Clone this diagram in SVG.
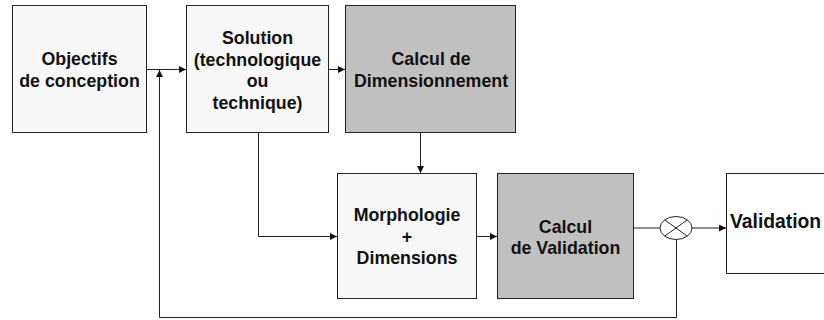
<svg xmlns="http://www.w3.org/2000/svg" width="824" height="320" viewBox="0 0 824 320">
<defs>
<style>
.box{stroke:#222;stroke-width:1}
.light{fill:#f8f8f8}
.dark{fill:#c0c0c0}
.white{fill:#ffffff}
text{font-family:"Liberation Sans",Arial,sans-serif;font-weight:bold;font-size:17.8px;fill:#111;text-anchor:middle}
.c{fill:none;stroke:#222;stroke-width:1}
</style>
<marker id="ah" viewBox="0 0 10 10" refX="10" refY="5" markerWidth="7" markerHeight="7" markerUnits="userSpaceOnUse" orient="auto">
<path d="M0,0 L10,5 L0,10 z" fill="#111"/>
</marker>
</defs>
<rect width="824" height="320" fill="#ffffff"/>
<g id="objectifs">
<rect class="box light" x="12.5" y="5.5" width="134" height="127"/>
<text x="79.5" y="65">Objectifs</text>
<text x="79.5" y="87">de conception</text>
</g>
<g id="solution">
<rect class="box light" x="186.5" y="5.5" width="142" height="127"/>
<text x="257.5" y="44">Solution</text>
<text x="257.5" y="65.5">(technologique</text>
<text x="257.5" y="87">ou</text>
<text x="257.5" y="108.5">technique)</text>
</g>
<g id="dimensionnement">
<rect class="box dark" x="345.5" y="5.5" width="170" height="127"/>
<text x="431" y="65">Calcul de</text>
<text x="431" y="86.5">Dimensionnement</text>
</g>
<g id="morphologie">
<rect class="box light" x="337.5" y="173.5" width="139" height="125"/>
<text x="407" y="221">Morphologie</text>
<text x="407" y="242.5">+</text>
<text x="407" y="264">Dimensions</text>
</g>
<g id="calcul-validation">
<rect class="box dark" x="497.5" y="173.5" width="136" height="125"/>
<text x="565.5" y="232.5">Calcul</text>
<text x="565.5" y="254">de Validation</text>
</g>
<g id="comparateur">
<ellipse class="c" cx="676" cy="228" rx="16" ry="11.5" fill="#fff"/>
<line class="c" x1="664.7" y1="219.9" x2="687.3" y2="236.1"/>
<line class="c" x1="664.7" y1="236.1" x2="687.3" y2="219.9"/>
</g>
<g id="validation">
<rect class="box white" x="726.5" y="173.5" width="110" height="100"/>
<text x="730" y="227.5" style="font-size:19.3px;text-anchor:start">Validation</text>
</g>
<g id="connectors">
<line class="c" x1="147" y1="69.5" x2="186" y2="69.5" marker-end="url(#ah)"/>
<line class="c" x1="329" y1="69.5" x2="345" y2="69.5" marker-end="url(#ah)"/>
<line class="c" x1="420.5" y1="133" x2="420.5" y2="173" marker-end="url(#ah)"/>
<polyline class="c" points="258.5,133 258.5,236.5 337,236.5" marker-end="url(#ah)"/>
<line class="c" x1="477" y1="236.5" x2="497" y2="236.5" marker-end="url(#ah)"/>
<line class="c" x1="634" y1="228" x2="660" y2="228"/>
<line class="c" x1="692" y1="228" x2="726" y2="228" marker-end="url(#ah)"/>
<polyline class="c" points="676.5,239.5 676.5,317.5 159.5,317.5 159.5,70" marker-end="url(#ah)"/>
</g>
</svg>
